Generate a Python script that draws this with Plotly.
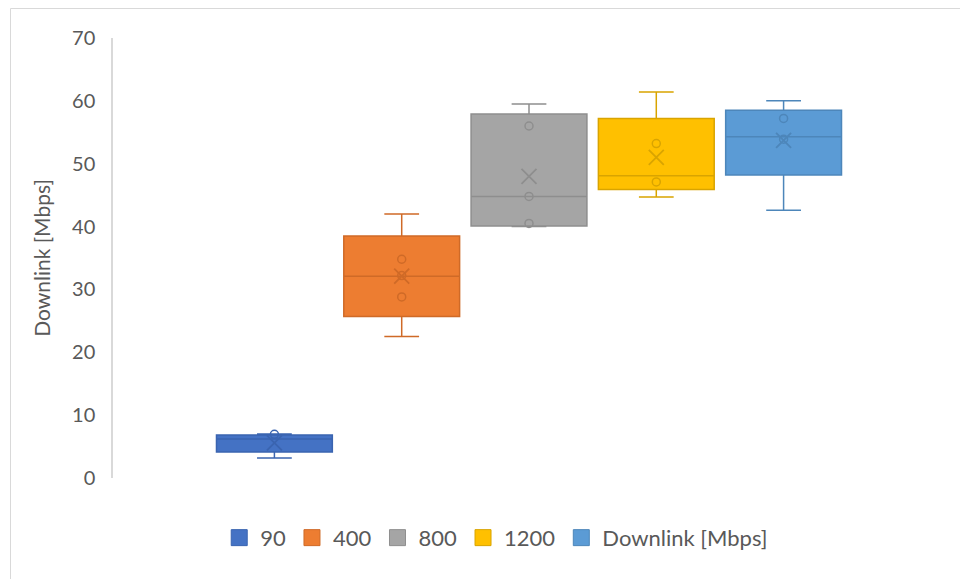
import plotly.graph_objects as go

# Series shown as box plots (download speed per setting)
series_names = ["90", "400", "800", "1200", "Downlink [Mbps]"]
lower_whisker = [3.2, 22.5, 40.0, 44.7, 42.6]
q1_values = [4.15, 25.7, 40.1, 45.9, 48.2]
median_values = [6.2, 32.1, 44.8, 48.1, 54.3]
q3_values = [6.85, 38.5, 57.9, 57.2, 58.5]
upper_whisker = [7.0, 42.0, 59.5, 61.4, 60.0]
mean_values = [5.6, 32.1, 48.0, 51.0, 53.7]
inner_points = [
    [6.95],
    [34.8, 32.2, 28.8],
    [56.0, 44.8, 40.5],
    [53.2, 47.1],
    [57.2, 53.9],
]
y_ticks = [0, 10, 20, 30, 40, 50, 60, 70]

fill_colors = ["#4472C4", "#ED7D31", "#A5A5A5", "#FFC000", "#5B9BD5"]
edge_colors = ["#3A64B0", "#CF6A27", "#8E8E8E", "#D9A400", "#4D86BA"]

FONT = "Lato, Carlito, Calibri, sans-serif"
TEXT_COLOR = "#595959"

fig = go.Figure()

for i, name in enumerate(series_names):
    fig.add_trace(go.Box(
        x=[i], q1=[q1_values[i]], median=[median_values[i]], q3=[q3_values[i]],
        lowerfence=[lower_whisker[i]], upperfence=[upper_whisker[i]],
        width=0.91, whiskerwidth=0.3, boxpoints=False,
        fillcolor=fill_colors[i], line=dict(color=edge_colors[i], width=1.5),
        showlegend=False, hoverinfo="skip",
    ))
    # inner data points
    fig.add_trace(go.Scatter(
        x=[i] * len(inner_points[i]), y=inner_points[i], mode="markers",
        marker=dict(symbol="circle-open", size=8, color=edge_colors[i],
                    line=dict(width=1.5, color=edge_colors[i])),
        showlegend=False, hoverinfo="skip",
    ))
    # mean marker
    fig.add_trace(go.Scatter(
        x=[i], y=[mean_values[i]], mode="markers",
        marker=dict(symbol="x-thin-open", size=15, color=edge_colors[i],
                    line=dict(width=1.8, color=edge_colors[i])),
        showlegend=False, hoverinfo="skip",
    ))

# legend entries with square swatches
for i, name in enumerate(series_names):
    fig.add_trace(go.Scatter(
        x=[None], y=[None], mode="markers", name=name,
        marker=dict(symbol="square", size=17, color=fill_colors[i],
                    line=dict(width=1, color=edge_colors[i])),
    ))

fig.update_layout(
    width=960, height=579,
    margin=dict(l=113, r=15, t=38, b=101),
    paper_bgcolor="white", plot_bgcolor="white",
    font=dict(family=FONT, size=20, color=TEXT_COLOR),
    xaxis=dict(range=[-1.268, 5.268], showticklabels=False, showgrid=False,
               zeroline=False, showline=False, ticks=""),
    yaxis=dict(range=[0, 70], tickvals=y_ticks, showgrid=False, zeroline=False,
               showline=True, linecolor="#D9D9D9", linewidth=1.5,
               ticks="", ticklabelstandoff=12,
               title=dict(text="Downlink [Mbps]", standoff=16,
                          font=dict(family=FONT, size=21, color=TEXT_COLOR)),
               tickfont=dict(family=FONT, size=20, color=TEXT_COLOR)),
    legend=dict(orientation="h", x=0.46, xanchor="center", y=-0.136,
                yanchor="middle", font=dict(family=FONT, size=22, color=TEXT_COLOR),
                itemsizing="trace", itemwidth=32, traceorder="normal"),
    shapes=[dict(type="rect", xref="paper", yref="paper",
                 x0=-0.1232, x1=1.03, y0=-0.25, y1=1.067,
                 line=dict(color="#D9D9D9", width=1), fillcolor="rgba(0,0,0,0)",
                 layer="below")],
)

fig.write_html("out.html")
